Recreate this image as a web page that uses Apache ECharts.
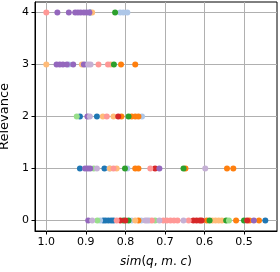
<!DOCTYPE html>
<html><head><meta charset="utf-8">
<script src="https://cdn.jsdelivr.net/npm/echarts@6/dist/echarts.min.js"></script>
<style>html,body{margin:0;padding:0;background:#fff}#c{width:280px;height:272px}</style>
</head><body><div id="c"></div>
<script>
// [similarity, relevance] pairs per group
const blue = [[0.889,4],[0.915,2],[0.872,2],[0.915,1],[0.853,1],[0.856,0],[0.850,0],[0.843,0],[0.836,0],[0.830,0],[0.446,0]];
const lightBlue = [[0.813,4],[0.805,4],[0.795,4],[0.943,3],[0.900,3],[0.758,2],[0.840,1],[0.795,1],[0.864,0],[0.784,0],[0.760,0],[0.740,0]];
const orange = [[0.811,3],[0.775,3],[0.810,2],[0.784,2],[0.775,2],[0.767,2],[0.775,1],[0.767,1],[0.648,1],[0.543,1],[0.527,1],[0.767,0],[0.594,0],[0.520,0],[0.486,0],[0.462,0]];
const lightOrange = [[0.884,4],[1.000,3],[0.910,3],[0.837,3],[0.857,2],[0.830,2],[0.839,1],[0.822,1],[0.775,0],[0.580,0],[0.572,0],[0.564,0],[0.556,0]];
const green = [[0.826,4],[0.829,3],[0.792,2],[0.801,1],[0.653,1],[0.805,0],[0.792,0],[0.587,0],[0.545,0],[0.500,0]];
const lightGreen = [[0.923,2],[0.880,1],[0.871,0],[0.725,0],[0.538,0]];
const red = [[0.818,2],[0.725,1],[0.813,0],[0.800,0],[0.628,0],[0.620,0],[0.612,0],[0.607,0],[0.492,0]];
const lightRed = [[1.000,4],[0.868,3],[0.844,3],[0.847,2],[0.830,1],[0.737,1],[0.822,0],[0.733,0],[0.704,0],[0.695,0],[0.686,0],[0.677,0],[0.668,0],[0.640,0]];
const purple = [[0.972,4],[0.943,4],[0.927,4],[0.920,4],[0.913,4],[0.905,4],[0.898,4],[0.891,4],[0.974,3],[0.966,3],[0.958,3],[0.948,3],[0.932,3],[0.905,3],[0.896,2],[0.902,1],[0.895,1],[0.889,1],[0.714,1],[0.894,0],[0.475,0]];
const lightPurple = [[0.894,3],[0.888,3],[0.890,2],[0.872,1],[0.598,1],[0.884,0],[0.750,0],[0.745,0],[0.714,0],[0.653,0]];
const xTicks = [0.5, 0.6, 0.7, 0.8, 0.9, 1.0];
const yTicks = [0, 1, 2, 3, 4];

const groups = [
  [blue, '#1f77b4'], [lightBlue, '#aec7e8'], [orange, '#ff7f0e'], [lightOrange, '#ffbb78'],
  [green, '#2ca02c'], [lightGreen, '#98df8a'], [red, '#d62728'], [lightRed, '#ff9896'],
  [purple, '#9467bd'], [lightPurple, '#c5b0d5']
];
const font = 'DejaVu Sans';
const chart = echarts.init(document.getElementById('c'));
chart.setOption({
  animation: false,
  grid: {left: 35, right: 3, top: 2, bottom: 41, outerBoundsMode: 'none', containLabel: false, show: true, borderColor: '#000', borderWidth: 1, backgroundColor: 'transparent'},
  xAxis: {
    type: 'value', inverse: true, min: 0.4165, max: 1.0286,
    axisLine: {show: true, onZero: false, lineStyle: {color: '#000', width: 1}},
    axisTick: {show: true, length: 3.5, customValues: xTicks, lineStyle: {color: '#000'}},
    axisLabel: {customValues: xTicks, margin: 6, color: '#000', fontFamily: font, fontSize: 11, formatter: v => v.toFixed(1)},
    splitLine: {show: true, lineStyle: {color: '#b0b0b0', width: 1}},
    name: '{i|sim}{n|(}{i|q}{n|, }{i|m}{n|. }{i|c}{n|)}', nameLocation: 'middle', nameGap: 25,
    nameTextStyle: {rich: {i: {fontFamily: font, fontSize: 12, fontStyle: 'italic', color: '#000'}, n: {fontFamily: font, fontSize: 12, color: '#000'}}}
  },
  yAxis: {
    type: 'value', min: -0.2, max: 4.2,
    axisLine: {show: true, onZero: false, lineStyle: {color: '#000', width: 1}},
    axisTick: {show: true, length: 3.5, customValues: yTicks, lineStyle: {color: '#000'}},
    axisLabel: {customValues: yTicks, margin: 6, color: '#000', fontFamily: font, fontSize: 11},
    splitLine: {show: true, lineStyle: {color: '#b0b0b0', width: 1}},
    name: 'Relevance', nameLocation: 'middle', nameGap: 18,
    nameTextStyle: {fontFamily: font, fontSize: 13, color: '#000'}
  },
  series: groups.map(([d, c]) => ({
    type: 'scatter', data: d, symbolSize: 6, itemStyle: {color: c, opacity: 1}
  }))
});
</script></body></html>
